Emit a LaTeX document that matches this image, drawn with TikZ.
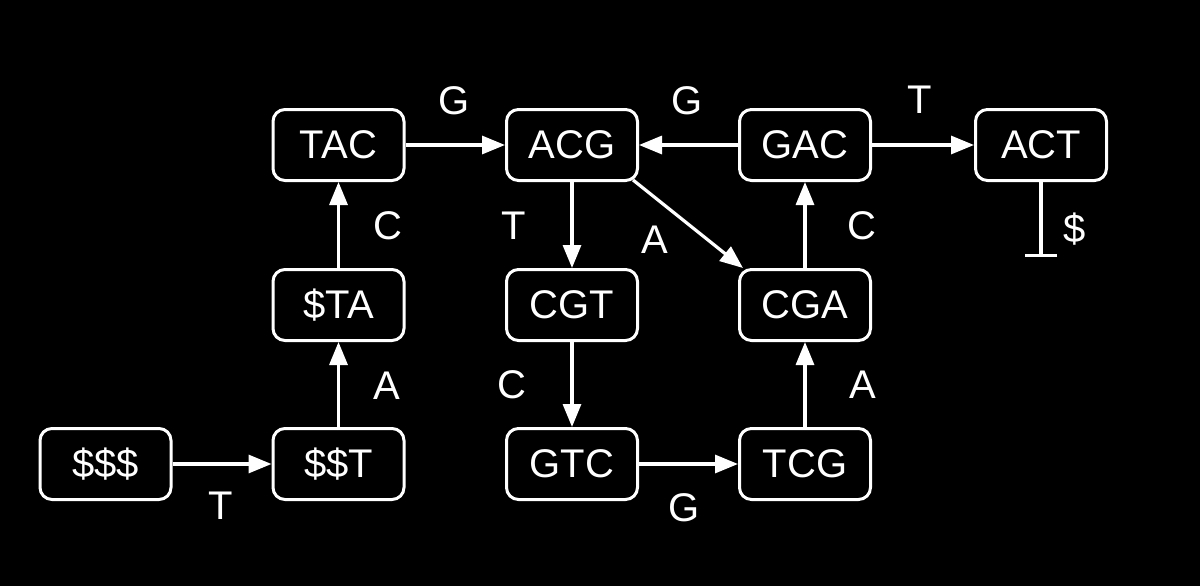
\documentclass[tikz,border=0pt]{standalone}
\usepackage{fontspec}
\setmainfont{Liberation Sans}
\usetikzlibrary{arrows.meta}
\begin{document}
\begin{tikzpicture}[x=1pt,y=-1pt,
  every node/.style={text=white,font=\fontsize{40}{48}\selectfont},
  kbox/.style={draw=white,line width=3pt,rounded corners=12pt,minimum width=131pt,minimum height=71pt,inner sep=0pt,fill=black},
  edge/.style={draw=white,line width=3.2pt,-{Triangle[length=23pt,width=18pt]}},
  endbar/.style={draw=white,line width=3.2pt,-{Bar[width=32pt]}},
  lbl/.style={inner sep=0pt}]
\fill[black] (0,0) rectangle (1200,586);
\useasboundingbox (0,0) rectangle (1200,586);
\node[kbox] (TAC) at (338.5,145) {TAC};
\node[kbox] (ACG) at (572,145) {ACG};
\node[kbox] (GAC) at (805,145) {GAC};
\node[kbox] (ACT) at (1041,145) {ACT};
\node[kbox] (STA) at (338.5,305) {\$TA};
\node[kbox] (CGT) at (572,305) {CGT};
\node[kbox] (CGA) at (805,305) {CGA};
\node[kbox] (SSS) at (105.5,464) {\$\$\$};
\node[kbox] (SST) at (338.5,464) {\$\$T};
\node[kbox] (GTC) at (572,464) {GTC};
\node[kbox] (TCG) at (805,464) {TCG};
\coordinate (actend) at (1041,257);
\draw[edge] (SSS) -- (SST);
\draw[edge] (SST) -- (STA);
\draw[edge] (STA) -- (TAC);
\draw[edge] (TAC) -- (ACG);
\draw[edge] (GAC) -- (ACG);
\draw[edge] (GAC) -- (ACT);
\draw[edge] (ACG) -- (CGT);
\draw[edge] ([xshift=-6pt,yshift=2pt]ACG.south east) -- ([xshift=5pt]CGA.north west);
\draw[edge] (CGT) -- (GTC);
\draw[edge] (GTC) -- (TCG);
\draw[edge] (TCG) -- (CGA);
\draw[edge] (CGA) -- (GAC);
\draw[endbar] (ACT) -- (actend);
\node[lbl] (lG1) at (454,101) {G};
\node[lbl] (lG2) at (687,101) {G};
\node[lbl] (lT1) at (919.5,100) {T};
\node[lbl] (lC1) at (388,226) {C};
\node[lbl] (lT2) at (514,226) {T};
\node[lbl] (lA1) at (655,240) {A};
\node[lbl] (lC2) at (862,226) {C};
\node[lbl] (lS) at (1075,229) {\$};
\node[lbl] (lA2) at (387,386) {A};
\node[lbl] (lT3) at (221,506) {T};
\node[lbl] (lC3) at (512,385) {C};
\node[lbl] (lG3) at (684,508) {G};
\node[lbl] (lA3) at (863,385) {A};
\end{tikzpicture}
\end{document}
